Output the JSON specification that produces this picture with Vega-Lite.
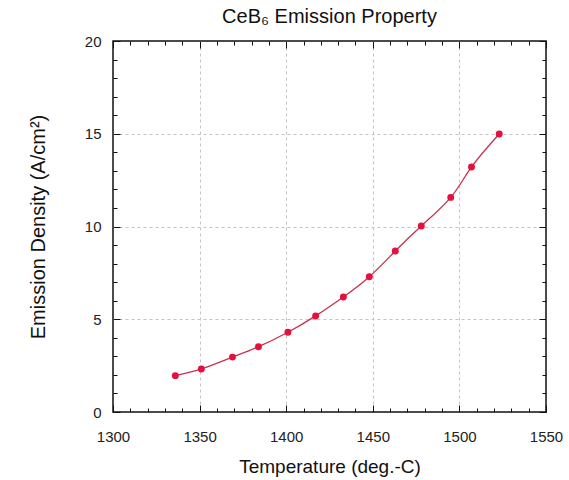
{
  "$schema": "https://vega.github.io/schema/vega-lite/v6.json",
  "autosize": "none",
  "width": 433,
  "height": 371,
  "padding": {"left": 113, "top": 41, "right": 23, "bottom": 68},
  "background": "white",
  "title": {
    "text": "CeB₆ Emission Property",
    "font": "Liberation Sans",
    "fontSize": 20,
    "fontWeight": "normal",
    "color": "#111",
    "offset": 7
  },
  "config": {
    "view": {"stroke": "#111", "strokeWidth": 1.5},
    "axis": {
      "labelFont": "Liberation Sans",
      "labelFontSize": 15,
      "labelColor": "#222",
      "labelFlush": false,
      "titleFont": "Liberation Sans",
      "titleFontWeight": "normal",
      "titleColor": "#111",
      "domain": false,
      "tickColor": "#111",
      "gridColor": "#c4c4c4",
      "gridDash": [3, 3],
      "gridWidth": 1
    }
  },
  "data": {
    "values": [
      {"temp": 1336, "density": 1.96},
      {"temp": 1351, "density": 2.32},
      {"temp": 1369, "density": 2.96},
      {"temp": 1384, "density": 3.52},
      {"temp": 1401, "density": 4.3},
      {"temp": 1417, "density": 5.18},
      {"temp": 1433, "density": 6.2},
      {"temp": 1448, "density": 7.29},
      {"temp": 1463, "density": 8.68},
      {"temp": 1478, "density": 10.03},
      {"temp": 1495, "density": 11.57},
      {"temp": 1507, "density": 13.21},
      {"temp": 1523, "density": 14.99}
    ]
  },
  "resolve": {"axis": {"x": "independent", "y": "independent"}},
  "layer": [
    {
      "mark": {"type": "line", "interpolate": "natural", "color": "#c8304e", "strokeWidth": 1.3},
      "encoding": {
        "x": {
          "field": "temp",
          "type": "quantitative",
          "scale": {"domain": [1300, 1550], "nice": false},
          "axis": {
            "title": "Temperature (deg.-C)",
            "titleFontSize": 19,
            "values": [1300, 1310, 1320, 1330, 1340, 1350, 1360, 1370, 1380, 1390, 1400, 1410, 1420, 1430, 1440, 1450, 1460, 1470, 1480, 1490, 1500, 1510, 1520, 1530, 1540, 1550],
            "format": "d",
            "labelExpr": "datum.value % 50 == 0 ? datum.label : ''",
            "tickSize": {"condition": {"test": "datum.value % 50 == 0", "value": -7}, "value": -4},
            "grid": true,
            "gridOpacity": {"condition": {"test": "datum.value % 50 == 0 && datum.value > 1300 && datum.value < 1550", "value": 1}, "value": 0},
            "labelPadding": 24,
            "titlePadding": 13
          }
        },
        "y": {
          "field": "density",
          "type": "quantitative",
          "scale": {"domain": [0, 20], "nice": false},
          "axis": {
            "title": "Emission Density (A/cm²)",
            "titleFontSize": 20,
            "values": [0, 1, 2, 3, 4, 5, 6, 7, 8, 9, 10, 11, 12, 13, 14, 15, 16, 17, 18, 19, 20],
            "labelExpr": "datum.value % 5 == 0 ? datum.label : ''",
            "tickSize": {"condition": {"test": "datum.value % 5 == 0", "value": -7}, "value": -4},
            "grid": true,
            "gridOpacity": {"condition": {"test": "datum.value % 5 == 0 && datum.value > 0 && datum.value < 20", "value": 1}, "value": 0},
            "labelPadding": 19,
            "titlePadding": 36
          }
        }
      }
    },
    {
      "mark": {"type": "point", "filled": true, "shape": "circle", "size": 48, "color": "#e5103c", "opacity": 1},
      "encoding": {
        "x": {
          "field": "temp",
          "type": "quantitative",
          "axis": {
            "orient": "top",
            "title": null,
            "labels": false,
            "grid": false,
            "values": [1300, 1310, 1320, 1330, 1340, 1350, 1360, 1370, 1380, 1390, 1400, 1410, 1420, 1430, 1440, 1450, 1460, 1470, 1480, 1490, 1500, 1510, 1520, 1530, 1540, 1550],
            "tickSize": {"condition": {"test": "datum.value % 50 == 0", "value": -7}, "value": -4}
          }
        },
        "y": {
          "field": "density",
          "type": "quantitative",
          "axis": {
            "orient": "right",
            "title": null,
            "labels": false,
            "grid": false,
            "values": [0, 1, 2, 3, 4, 5, 6, 7, 8, 9, 10, 11, 12, 13, 14, 15, 16, 17, 18, 19, 20],
            "tickSize": {"condition": {"test": "datum.value % 5 == 0", "value": -7}, "value": -4}
          }
        }
      }
    }
  ]
}
